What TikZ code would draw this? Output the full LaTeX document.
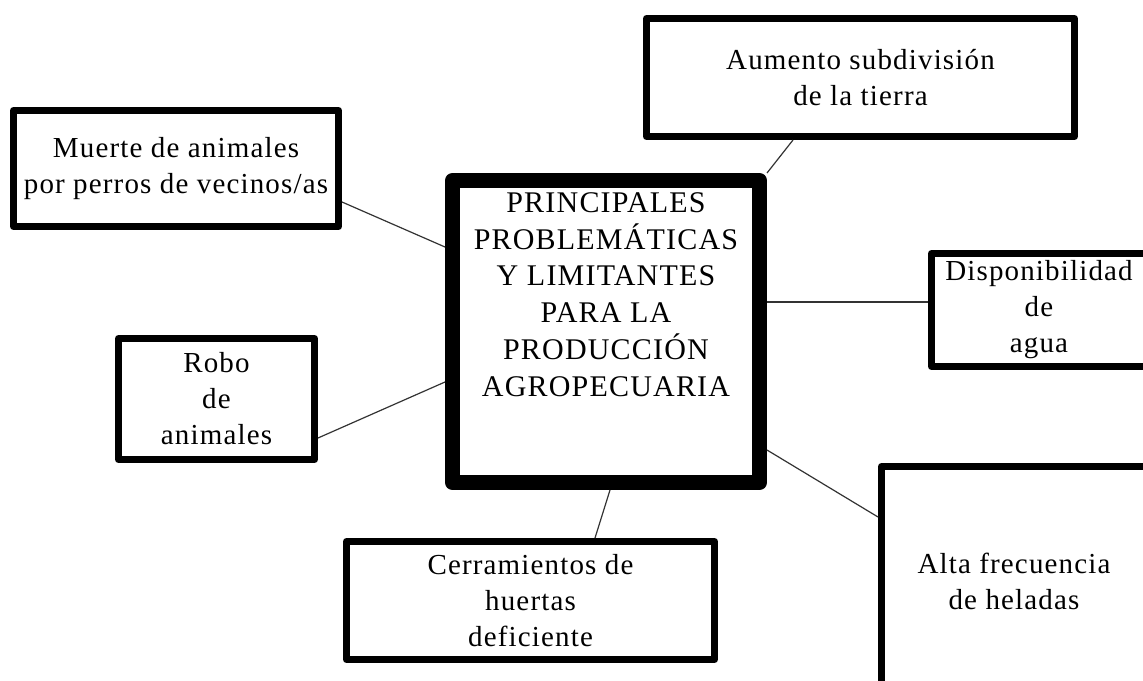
\documentclass[tikz,border=0pt]{standalone}
\usepackage{fontspec}
\setmainfont{Liberation Serif}[LetterSpace=4]
\usetikzlibrary{positioning}

\begin{document}
\begin{tikzpicture} [
    x=1pt, y=-1pt,
    box/.style = {draw, line width=7pt, line join=round, inner sep=0pt,
        align=center, font=\fontsize{29}{36}\selectfont},
    hub/.style = {draw, line width=15pt, line join=round, inner sep=0pt},
    link/.style = {line width=1.2pt, black!80}]
    % \draw [help lines] (0,0) grid [step=100] (1143,680);
    \fill [white] (0,0) rectangle (1143,680);
    \clip (0,0) rectangle (1143,680);
    \node (hub) [hub, minimum width=307pt, minimum height=302pt] at (606,331.5) {};
    \node (hubtext) [align=center, font=\fontsize{30}{36.8}\selectfont]
        at (606,294.5) {PRINCIPALES\\PROBLEMÁTICAS\\Y LIMITANTES\\PARA LA\\PRODUCCIÓN\\AGROPECUARIA};
    \node (muerte) [box, minimum width=325pt, minimum height=116pt]
        at (176,168.5) {Muerte de animales\\por perros de vecinos/as};
    \node (aumento) [box, minimum width=428pt, minimum height=118pt]
        at (860.5,77.5) {Aumento subdivisión\\de la tierra};
    \node (dispon) [box, minimum width=215pt, minimum height=113pt]
        at (1039,310) {Disponibilidad\\de\\agua};
    \node (robo) [box, minimum width=196pt, minimum height=121pt]
        at (216.5,399) {Robo\\de\\animales};
    \node (cerram) [box, minimum width=368pt, minimum height=118pt]
        at (530.5,600.5) {Cerramientos de\\huertas\\deficiente};
    \node (alta) [box, minimum width=265pt, minimum height=230pt]
        at (1014,581.5) {Alta frecuencia\\de heladas};

    \draw [link] ([yshift=-33.5pt]muerte.east) -- ([yshift=84.5pt]hub.west);
    \draw [link] ([xshift=-67.5pt]aumento.south) -- (hub.north east);
    \draw [link, transform canvas={yshift=8pt}] (hub.east |- dispon.west) -- (dispon.west);
    \draw [link] ([yshift=-39pt]robo.east) -- ([yshift=-50.5pt]hub.west);
    \draw [link] ([xshift=4pt]hub.south) -- ([xshift=64.5pt]cerram.north);
    \draw [link] ([yshift=-118.5pt]hub.east) -- ([yshift=64.5pt]alta.west);
\end{tikzpicture}
\end{document}
